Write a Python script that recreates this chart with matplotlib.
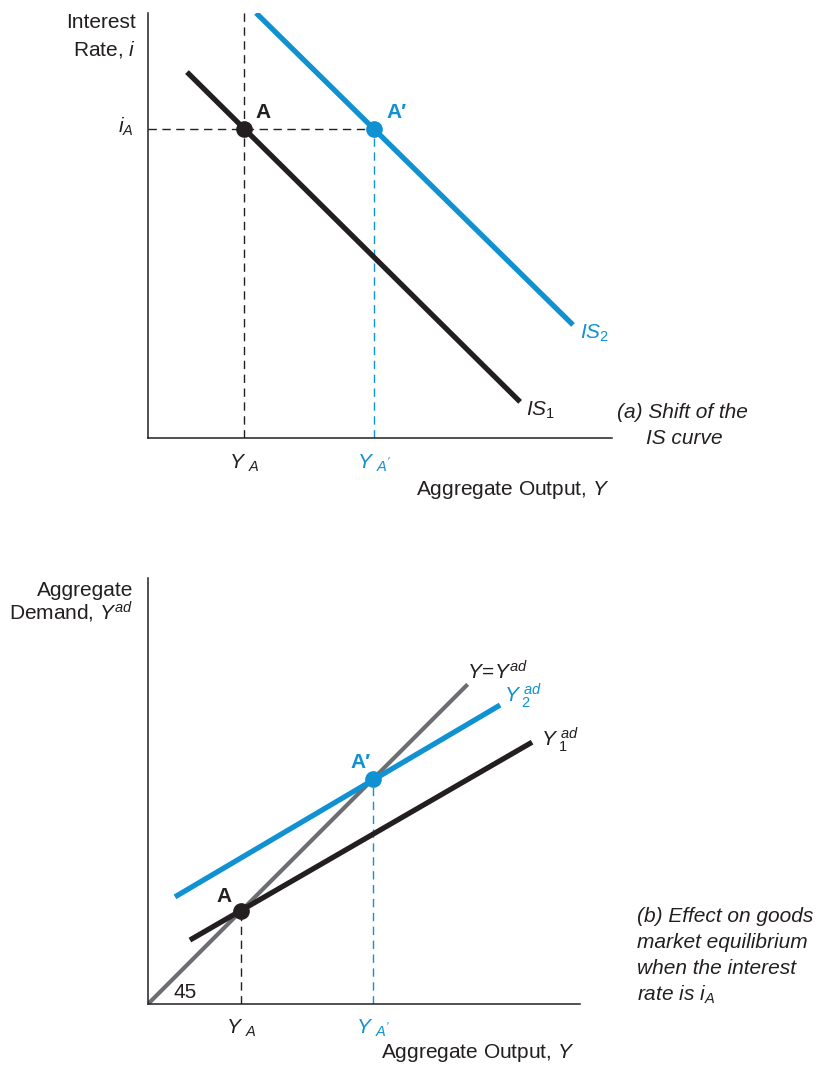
import matplotlib
matplotlib.use("Agg")
import matplotlib.pyplot as plt

plt.rcParams['font.family'] = ['Liberation Sans', 'DejaVu Sans']
plt.rcParams['mathtext.fontset'] = 'custom'
plt.rcParams['mathtext.rm'] = 'Liberation Sans'
plt.rcParams['mathtext.it'] = 'Liberation Sans:italic'
plt.rcParams['mathtext.bf'] = 'Liberation Sans:bold'

BLUE = '#0f91d2'
BLACK = '#231f20'
GRAY = '#6d6e71'

# ---- panel (a) data: IS curves (Y, i) ----
is1_Y = [8.4, 80.2]
is1_i = [86.1, 8.5]
is2_Y = [23.3, 91.6]
is2_i = [100.0, 26.6]
pointA_a = (20.7, 72.7)
pointA2_a = (48.7, 72.7)

# ---- panel (b) data: (Y, Yad) ----
line45_Y = [0.0, 74.0]
line45_Yad = [0.0, 74.0]
y1ad_Y = [9.7, 88.9]
y1ad_Yad = [14.8, 60.6]
y2ad_Y = [6.25, 81.5]
y2ad_Yad = [24.8, 69.2]
pointA_b = (21.5, 21.5)
pointA2_b = (52.1, 52.1)

W, H = 819, 1066
fig = plt.figure(figsize=(W / 100, H / 100), dpi=100)
FS = 15


def ax_at(x0, y0, x1, y1):
    return fig.add_axes([x0 / W, 1 - y1 / H, (x1 - x0) / W, (y1 - y0) / H])


def txt(x, y, s, **kw):
    kw.setdefault('fontsize', FS)
    kw.setdefault('color', BLACK)
    fig.text(x / W, 1 - y / H, s, **kw)


def style(ax):
    for s in ['top', 'right']:
        ax.spines[s].set_visible(False)
    for s in ['left', 'bottom']:
        ax.spines[s].set_linewidth(1.1)
        ax.spines[s].set_color(BLACK)
    ax.set_xticks([])
    ax.set_yticks([])
    ax.patch.set_alpha(0)


# ---------------- panel (a) ----------------
axa = ax_at(148, 13, 612, 438)
style(axa)
axa.set_xlim(0, 100)
axa.set_ylim(0, 100)
dash = (0, (6, 4))
axa.plot([pointA_a[0]] * 2, [0, 100], color=BLACK, lw=1.0, ls=dash)
axa.plot([0, pointA2_a[0]], [pointA_a[1]] * 2, color=BLACK, lw=1.0, ls=dash)
axa.plot([pointA2_a[0]] * 2, [0, pointA2_a[1]], color=BLUE, lw=1.0, ls=dash)
axa.plot(is1_Y, is1_i, color=BLACK, lw=3.8, solid_capstyle='butt')
axa.plot(is2_Y, is2_i, color=BLUE, lw=3.8, solid_capstyle='butt')
axa.plot(*pointA_a, 'o', color=BLACK, ms=11, clip_on=False, zorder=5)
axa.plot(*pointA2_a, 'o', color=BLUE, ms=11, clip_on=False, zorder=5)

txt(136, 22, 'Interest', ha='right', va='center')
txt(136, 50, r'Rate, $i$', ha='right', va='center')
txt(134, 127, r'$i_A$', ha='right', va='center')
txt(255, 113, 'A', fontweight='bold', ha='left', va='center')
txt(386, 113, 'A′', fontweight='bold', color=BLUE, ha='left', va='center')
txt(580, 333, r'$IS_{\rm 2}$', color=BLUE, ha='left', va='center')
txt(526, 410, r'$IS_{\rm 1}$', ha='left', va='center')
txt(682, 412, '(a) Shift of the', style='italic', ha='center', va='center')
txt(684, 438, 'IS curve', style='italic', ha='center', va='center')
txt(244, 463, r'$Y\ _A$', ha='center', va='center')
txt(374, 463, r"$Y\ _{A'}$", color=BLUE, ha='center', va='center')
txt(513, 490, r'Aggregate Output, $Y$', ha='center', va='center')

# ---------------- panel (b) ----------------
axb = ax_at(148, 578, 580, 1004)
style(axb)
axb.set_xlim(0, 100)
axb.set_ylim(0, 100 * 426 / 432)
axb.plot([pointA_b[0]] * 2, [0, pointA_b[1]], color=BLACK, lw=1.0, ls=dash)
axb.plot([pointA2_b[0]] * 2, [0, pointA2_b[1]], color=BLUE, lw=1.0, ls=dash)
axb.plot(line45_Y, line45_Yad, color=GRAY, lw=3.0, solid_capstyle='butt')
axb.plot(y1ad_Y, y1ad_Yad, color=BLACK, lw=3.8, solid_capstyle='butt')
axb.plot(y2ad_Y, y2ad_Yad, color=BLUE, lw=3.8, solid_capstyle='butt')
axb.plot(*pointA_b, 'o', color=BLACK, ms=11, clip_on=False, zorder=5)
axb.plot(*pointA2_b, 'o', color=BLUE, ms=11, clip_on=False, zorder=5)

txt(133, 590, 'Aggregate', ha='right', va='center')
txt(133, 612, r'Demand, $Y^{ad}$', ha='right', va='center')
txt(467, 672, r'$Y\!=\!Y^{ad}$', ha='left', va='center')
txt(504, 696, r'$Y_{\ \rm 2}^{\ ad}$', color=BLUE, ha='left', va='center')
txt(541, 740, r'$Y_{\ \rm 1}^{\ ad}$', ha='left', va='center')
txt(361, 762, 'A′', fontweight='bold', color=BLUE, ha='center', va='center')
txt(224, 896, 'A', fontweight='bold', ha='center', va='center')
txt(174, 992, '45', ha='left', va='center')
txt(241, 1028, r'$Y\ _A$', ha='center', va='center')
txt(373, 1028, r"$Y\ _{A'}$", color=BLUE, ha='center', va='center')
txt(478, 1053, r'Aggregate Output, $Y$', ha='center', va='center')
txt(637, 917, '(b) Effect on goods', style='italic', ha='left', va='center')
txt(637, 943, 'market equilibrium', style='italic', ha='left', va='center')
txt(637, 969, 'when the interest', style='italic', ha='left', va='center')
txt(637, 995, r'rate is $i_A$', style='italic', ha='left', va='center')

fig.savefig('out.png', dpi=100)
